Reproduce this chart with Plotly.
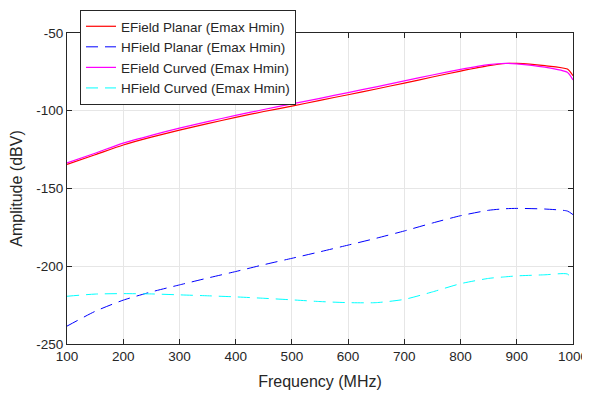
import plotly.graph_objects as go

freq = [100, 150, 200, 250, 300, 350, 400, 450, 500, 550, 600, 650, 700, 750, 800, 850, 880, 900, 950, 990, 1000]

efield_planar = [-134.5, -128.3, -122.0, -117.0, -112.5, -108.3, -104.3, -100.5, -97.0, -93.3, -89.7,
                 -86.0, -82.2, -78.3, -74.5, -71.0, -69.6, -69.5, -71.0, -73.2, -77.5]
hfield_planar = [-238.5, -229.0, -221.8, -216.5, -212.0, -207.6, -203.4, -199.0, -194.9, -190.7, -186.4,
                 -182.0, -177.3, -172.2, -167.5, -164.0, -163.0, -162.8, -163.2, -164.5, -166.8]
efield_curved = [-133.5, -127.3, -120.8, -115.8, -111.2, -107.0, -103.0, -99.2, -95.6, -92.0, -88.3,
                 -84.6, -80.8, -77.0, -73.4, -70.3, -69.5, -69.8, -72.0, -75.3, -80.2]
hfield_curved = [-219.3, -217.9, -217.6, -217.8, -218.4, -219.0, -219.7, -220.6, -221.6, -222.7, -223.4,
                 -223.4, -221.3, -216.5, -211.2, -207.8, -206.8, -206.2, -205.5, -205.0, -209.0]

x_ticks = [100, 200, 300, 400, 500, 600, 700, 800, 900, 1000]
y_ticks = [-250, -200, -150, -100, -50]
y_tick_labels = ["-250", "-200", "-150", "-100", "-50"]

fig = go.Figure()
fig.add_trace(go.Scatter(x=freq, y=efield_planar, mode="lines", name="EField Planar (Emax Hmin)",
                         line=dict(color="#ff0000", width=1.2, shape="spline", smoothing=0.6)))
fig.add_trace(go.Scatter(x=freq, y=hfield_planar, mode="lines", name="HField Planar (Emax Hmin)",
                         line=dict(color="#0000ff", width=1, dash="12px,7px", shape="spline", smoothing=0.6)))
fig.add_trace(go.Scatter(x=freq, y=efield_curved, mode="lines", name="EField Curved (Emax Hmin)",
                         line=dict(color="#ff00ff", width=1.2, shape="spline", smoothing=0.6)))
fig.add_trace(go.Scatter(x=freq, y=hfield_curved, mode="lines", name="HField Curved (Emax Hmin)",
                         line=dict(color="#00ffff", width=1, dash="12px,7px", shape="spline", smoothing=0.6)))

axis_common = dict(showgrid=True, gridcolor="#e6e6e6", gridwidth=1, showline=True, linecolor="#262626",
                   linewidth=1, mirror="ticks", ticks="inside", ticklen=5, tickcolor="#262626",
                   zeroline=False, automargin=False,
                   tickfont=dict(family="Liberation Sans, Arial", size=13.5, color="#262626"))

# page body has an 8px margin, so the figure is drawn 8px smaller and offset
fig.update_layout(
    width=582, height=386,
    margin=dict(l=59, r=17, t=25, b=50, autoexpand=False),
    paper_bgcolor="white", plot_bgcolor="white",
    font=dict(family="Liberation Sans, Arial", size=13.5, color="#262626"),
    xaxis=dict(range=[100, 1000], tickvals=x_ticks,
               title=dict(text="Frequency (MHz)", font=dict(size=16), standoff=12),
               **axis_common),
    yaxis=dict(range=[-250, -50], tickvals=y_ticks, ticktext=y_tick_labels,
               title=dict(text="Amplitude (dBV)", font=dict(size=16), standoff=12),
               **axis_common),
    legend=dict(x=(72 - 59) / 506, y=1 + (25 - 2) / 311, xanchor="left", yanchor="top",
                bgcolor="white", bordercolor="#262626", borderwidth=1,
                font=dict(size=13.5, color="#262626"), tracegroupgap=0),
    showlegend=True,
)

fig.write_html("out.html")
